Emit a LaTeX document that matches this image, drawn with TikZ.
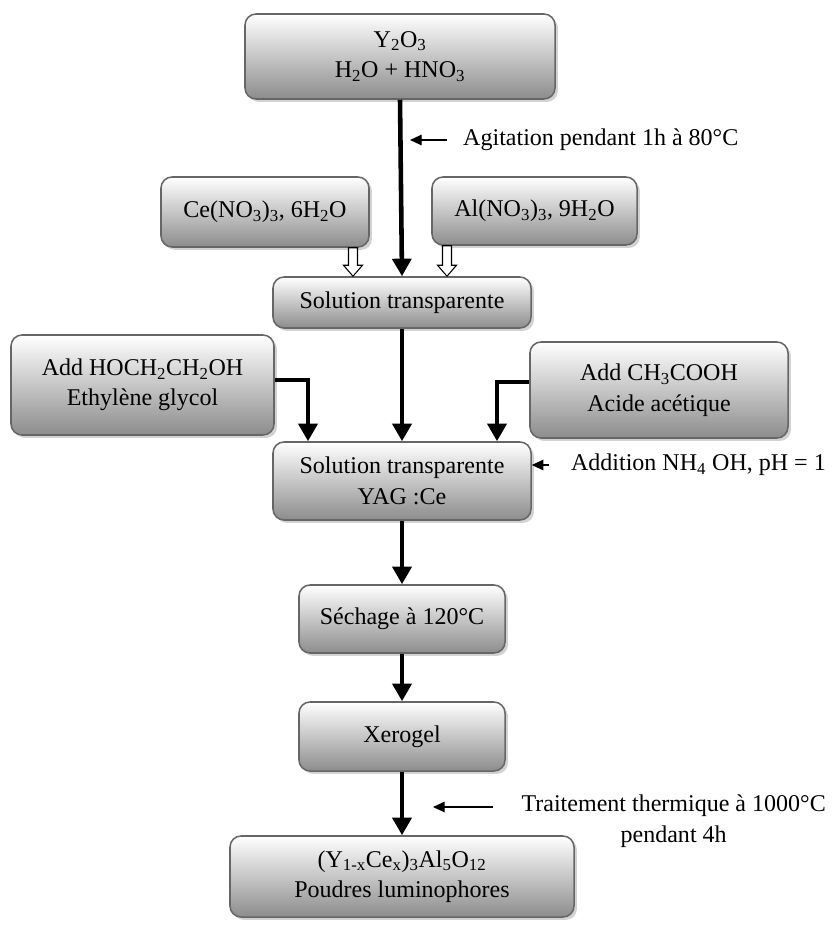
\documentclass[tikz,border=0pt]{standalone}
\usepackage{fontspec}
\setmainfont{Liberation Serif}
\usetikzlibrary{arrows.meta, positioning, shadows, calc}
\newcommand{\sbs}[1]{\textsubscript{#1}}
% open block arrow between two points
\newcommand{\hollowarrow}[2]{%
  \draw[hollow] ($(#1)+(-4.5,0)$) -- ($(#2)+(-4.5,-11)$) -- ($(#2)+(-9.5,-11)$) -- (#2)
    -- ($(#2)+(9.5,-11)$) -- ($(#2)+(4.5,-11)$) -- ($(#1)+(4.5,0)$) -- cycle;}

\begin{document}
\begin{tikzpicture}[
    x=0.03cm, y=-0.03cm,
    stepbox/.style={rectangle, rounded corners=0.33cm, draw=black!60, line width=1.3pt, top color=white, bottom color=black!45, drop shadow={shadow xshift=2.5pt, shadow yshift=-2.5pt, fill=black!22, opacity=0.8}, align=center, font=\fontsize{20.5}{26}\selectfont, inner sep=2pt},
    note/.style={align=center, font=\fontsize{20.5}{26}\selectfont, inner sep=0pt},
    bigarrow/.style={-{Triangle[width=16pt, length=15pt]}, line width=3.9pt},
    thinarrow/.style={-{Triangle[width=9pt, length=10pt]}, line width=1.2pt},
    hollow/.style={draw=black, line width=0.9pt, fill=white}
]
\useasboundingbox (0,0) rectangle (831,927);

% Starting materials
\node[stepbox, minimum width=9.3cm, minimum height=2.55cm] (top) at (400,56.5) {Y\sbs{2}O\sbs{3}\\H\sbs{2}O + HNO\sbs{3}};
\node[stepbox, minimum width=6.24cm, minimum height=2.1cm] (cenit) at (265,212) {Ce(NO\sbs{3})\sbs{3}, 6H\sbs{2}O};
\node[stepbox, minimum width=6.15cm, minimum height=2.04cm] (alnit) at (534.5,211) {Al(NO\sbs{3})\sbs{3}, 9H\sbs{2}O};

% Main chain
\node[stepbox, minimum width=7.74cm, minimum height=1.53cm] (sol1) at (402,302.5) {Solution transparente};
\node[stepbox, minimum width=7.89cm, minimum height=3.0cm] (glycol) at (142.5,385) {Add HOCH\sbs{2}CH\sbs{2}OH\\Ethylène glycol};
\node[stepbox, minimum width=7.74cm, minimum height=2.88cm] (acetic) at (659,390) {Add CH\sbs{3}COOH\\Acide acétique};
\node[stepbox, minimum width=7.74cm, minimum height=2.34cm] (yag) at (402,481) {Solution transparente\\YAG :Ce};
\node[stepbox, minimum width=6.18cm, minimum height=2.04cm] (dry) at (402,619) {Séchage à 120°C};
\node[stepbox, minimum width=6.18cm, minimum height=2.07cm] (xero) at (402,736.5) {Xerogel};
\node[stepbox, minimum width=10.32cm, minimum height=2.43cm] (powder) at (402,876.5) {(Y\sbs{1-x}Ce\sbs{x})\sbs{3}Al\sbs{5}O\sbs{12}\\Poudres luminophores};

% Side notes
\node[note, anchor=west] (agit) at (463,140) {Agitation pendant 1h à 80°C};
\node[note, anchor=east] (addlab) at (826,465) {Addition NH\sbs{4} OH, pH = 1};
\node[note, anchor=east] (heat) at (826,821) {Traitement thermique à 1000°C\\pendant 4h};

% Thick arrows
\draw[bigarrow] (top.south) -- (sol1.north);
\draw[bigarrow] (sol1.south) -- (yag.north);
\draw[bigarrow] (yag.south) -- (dry.north);
\draw[bigarrow] (dry.south) -- (xero.north);
\draw[bigarrow] (xero.south) -- (powder.north);
\draw[bigarrow] ([yshift=0.15cm]glycol.east) -| ([xshift=-2.82cm]yag.north);
\draw[bigarrow] ([yshift=0.24cm]acetic.west) -| ([xshift=2.85cm]yag.north);

% Open arrows from the nitrates
\coordinate (ceA) at ([xshift=-1.47cm]sol1.north);
\coordinate (alA) at ([xshift=1.35cm]sol1.north);
\hollowarrow{cenit.south -| ceA}{ceA}
\hollowarrow{alnit.south -| alA}{alA}

% Thin arrows for the notes
\coordinate (agittip) at (410,140);
\coordinate (addtail) at (549,465);
\coordinate (heattail) at (493,807);
\coordinate (heattip) at (433,807);
\draw[thinarrow] ([xshift=-0.48cm]agit.west) -- (agittip);
\draw[thinarrow] (addtail) -- (addtail -| yag.east);
\draw[thinarrow] (heattail) -- (heattip);

\end{tikzpicture}
\end{document}
